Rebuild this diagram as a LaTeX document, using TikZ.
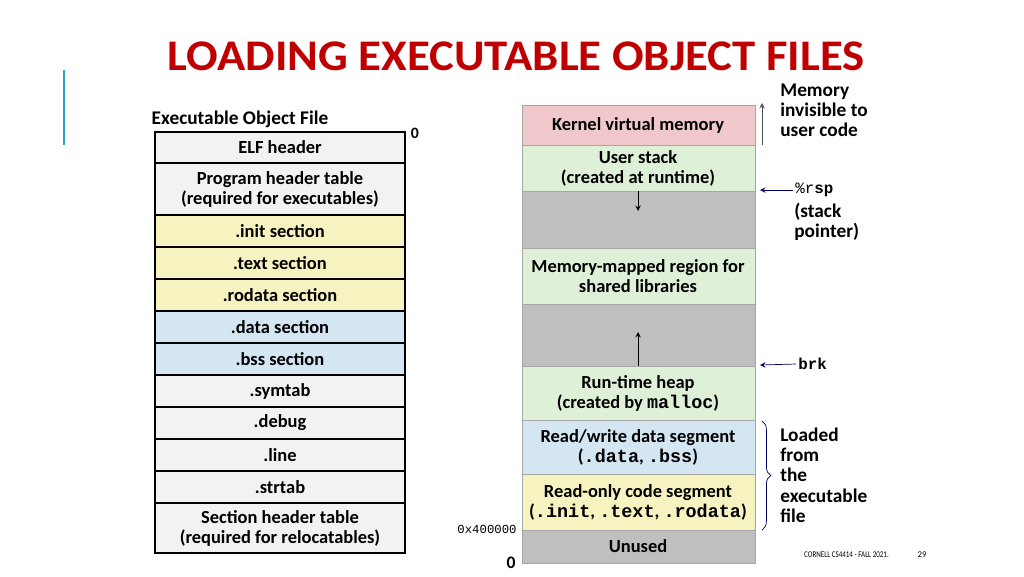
\documentclass[tikz,border=0pt]{standalone}
\usepackage{fontspec}
\setmainfont{Carlito}
\setmonofont{Liberation Mono}
\usetikzlibrary{decorations.pathreplacing}
\definecolor{titlered}{HTML}{C00000}
\definecolor{kernpink}{HTML}{F0C8CC}
\definecolor{seggreen}{HTML}{DFF0D8}
\definecolor{seggray}{HTML}{BFBFBF}
\definecolor{segblue}{HTML}{D5E6F3}
\definecolor{segyellow}{HTML}{F7F3C0}
\definecolor{segwhite}{HTML}{F2F2F2}
\definecolor{teal}{HTML}{2AA7C0}
\tikzset{
  elfbox/.style={draw=black,line width=1.2pt},
  vmbox/.style={draw=gray!70,line width=0.5pt,font=\bfseries\fontsize{10.5}{11.4}\selectfont,align=center},
  sidelbl/.style={font=\bfseries\fontsize{11}{11.4}\selectfont,align=left,anchor=north west,inner sep=0pt},
  ptr/.style={-stealth,navy}
}
\colorlet{navy}{blue!40!black}
\begin{document}
\begin{tikzpicture}[x=0.02cm,y=-0.02cm]
\useasboundingbox (0,0) rectangle (1024,576);
\draw[teal,line width=1.5pt] (64,70) -- (64,145);
\node[font=\bfseries\Huge,text=titlered] (title) at (516,56) {\scalebox{1.07}[1.0]{LOADING EXECUTABLE OBJECT FILES}};
% executable object file
\node[font=\bfseries\fontsize{11}{13}\selectfont] (eoflbl) at (240,119) {Executable Object File};
\foreach \top/\bot/\col/\txt [count=\i] in {
  132/163/segwhite/ELF header,
  163/215/segwhite/{Program header table\\(required for executables)},
  215/247/segyellow/.init section,
  247/279/segyellow/.text section,
  279/311/segyellow/.rodata section,
  311/343/segblue/.data section,
  343/375/segblue/.bss section,
  375/407/segwhite/.symtab,
  407/439/segwhite/.debug,
  439/471/segwhite/.line,
  471/503/segwhite/.strtab,
  503/553/segwhite/{Section header table\\(required for relocatables)}}
{
  \filldraw[elfbox,fill=\col] (155,\top) rectangle (405,\bot);
  \node[font=\bfseries\fontsize{10.5}{11.4}\selectfont,align=center] (elf\i) at (280,{(\top+\bot)/2}) {\txt};
}
% virtual memory
\foreach \top/\bot/\col/\txt [count=\i] in {
  105/145/kernpink/Kernel virtual memory,
  145/191/seggreen/{User stack\\(created at runtime)},
  191/248/seggray/{},
  248/304/seggreen/{Memory-mapped region for\\shared libraries},
  304/366/seggray/{},
  366/420/seggreen/{Run-time heap\\(created by \texttt{malloc})},
  420/474/segblue/{Read/write data segment\\(\texttt{.data}, \texttt{.bss})},
  474/530/segyellow/{Read-only code segment\\(\texttt{.init}, \texttt{.text}, \texttt{.rodata})},
  530/563/seggray/Unused}
{
  \filldraw[vmbox,fill=\col] (522,\top) rectangle (755,\bot);
  \node[vmbox,draw=none] (vm\i) at (638,{(\top+\bot)/2}) {\txt};
}
\draw[-stealth] (638,191) -- (638,211);
\draw[-stealth] (638,366) -- (638,332);
\node[font=\bfseries\small] (zerotop) at (415,133) {0};
\node[font=\ttfamily\scriptsize] (addr) at (487,529) {0x400000};
\node[font=\bfseries\normalsize] (zerobot) at (511,563) {0};
% side labels
\coordinate (kt) at (762,103);
\coordinate (kb) at (762,145);
\draw[-stealth,gray!60!black] (kb) -- (kt);
\node[sidelbl] (invis) at (780,84) {Memory\\invisible to\\user code};
\coordinate (rspp) at (760,190);
\node[font=\ttfamily\small,anchor=west,inner sep=0pt] (rsp) at (795,190) {\%r\textbf{sp}};
\draw[ptr] ([xshift=-1pt]rsp.west) -- (rspp);
\node[sidelbl] (stk) at (794,203) {(stack\\pointer)};
\coordinate (brkp) at (760,365);
\node[font=\ttfamily\bfseries\small,anchor=west,inner sep=0pt] (brk) at (798,364) {brk};
\draw[ptr] ([xshift=-1pt]brk.west) -- (brkp);
\draw[navy,decorate,decoration={brace,amplitude=5pt}] (762,421) -- (762,530);
\node[sidelbl] (loaded) at (780,428) {Loaded\\from\\the\\executable\\file};
\node[font=\tiny,anchor=west] (foot) at (798,555) {\scalebox{0.8}[1]{CORNELL CS4414 - FALL 2021.}};
\node[font=\tiny] (page) at (922,555) {29};
\end{tikzpicture}
\end{document}
